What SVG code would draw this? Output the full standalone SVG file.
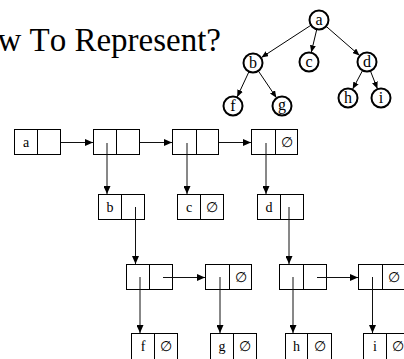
<svg xmlns="http://www.w3.org/2000/svg" width="404" height="359" viewBox="0 0 404 359">
  <style>
    .title { font-family: "Liberation Serif", "Times New Roman", serif; font-size: 33px; fill: #000; font-kerning: none; }
    .tnode circle { fill: #fff; stroke: #000; stroke-width: 2; }
    .tnode text { font-family: "Liberation Serif", "Times New Roman", serif; font-size: 16px; text-anchor: middle; fill: #000; }
    .cell rect, .cell line { fill: #fff; stroke: #000; stroke-width: 1; }
    .cell text { font-family: "Liberation Serif", "DejaVu Serif", serif; font-size: 14px; text-anchor: middle; fill: #000; }
    .edge { stroke: #000; stroke-width: 1; fill: none; marker-end: url(#tip); }
    .link { stroke: #111; stroke-width: 1; fill: none; marker-end: url(#head); }
  </style>
  <defs>
    <marker id="tip" markerUnits="userSpaceOnUse" markerWidth="7" markerHeight="6" refX="7" refY="3" orient="auto">
      <path d="M0,0 L7,3 L0,6 z" fill="#000"/>
    </marker>
    <marker id="head" markerUnits="userSpaceOnUse" markerWidth="8" markerHeight="7" refX="8" refY="3.5" orient="auto">
      <path d="M0,0 L8,3.5 L0,7 z" fill="#000"/>
    </marker>
  </defs>

  <rect width="404" height="359" fill="#fff"/>

  <!-- slide heading, running past the left edge -->
  <text class="title" x="221" y="51" text-anchor="end">How To Represent?</text>

  <!-- tree edges -->
  <g id="tree-edges">
    <line class="edge" x1="311" y1="25.2" x2="261.4" y2="57.5"/>
    <line class="edge" x1="316.8" y1="29.2" x2="311.3" y2="52.3"/>
    <line class="edge" x1="326.1" y1="26.3" x2="359.5" y2="55.4"/>
    <line class="edge" x1="249" y1="71.6" x2="237.2" y2="96.9"/>
    <line class="edge" x1="258.3" y1="70.9" x2="276.4" y2="97.7"/>
    <line class="edge" x1="362.6" y1="70.4" x2="352.7" y2="89.1"/>
    <line class="edge" x1="370.4" y1="70.9" x2="377.4" y2="88.7"/>
  </g>

  <!-- tree nodes -->
  <g id="t-a" class="tnode"><circle cx="319" cy="20" r="9.5"/><text x="319" y="25">a</text></g>
  <g id="t-b" class="tnode"><circle cx="253" cy="63" r="9.5"/><text x="253" y="68">b</text></g>
  <g id="t-c" class="tnode"><circle cx="309" cy="62" r="9.5"/><text x="309" y="67">c</text></g>
  <g id="t-d" class="tnode"><circle cx="367" cy="62" r="9.5"/><text x="367" y="67">d</text></g>
  <g id="t-f" class="tnode"><circle cx="233" cy="106" r="9.5"/><text x="233" y="111">f</text></g>
  <g id="t-g" class="tnode"><circle cx="282" cy="106" r="9.5"/><text x="282" y="110">g</text></g>
  <g id="t-h" class="tnode"><circle cx="348" cy="98" r="9.5"/><text x="348" y="103">h</text></g>
  <g id="t-i" class="tnode"><circle cx="381" cy="98" r="9.5"/><text x="381" y="103">i</text></g>

  <!-- list cells: two-field records -->
  <g id="n-a" class="cell"><rect x="14.5" y="129.5" width="46" height="25"/><line x1="37.5" y1="129.5" x2="37.5" y2="154.5"/><text x="26" y="146.5">a</text></g>
  <g id="n-r1" class="cell"><rect x="93.5" y="129.5" width="46" height="25"/><line x1="116.5" y1="129.5" x2="116.5" y2="154.5"/></g>
  <g id="n-r2" class="cell"><rect x="172.5" y="129.5" width="46" height="25"/><line x1="196.5" y1="129.5" x2="196.5" y2="154.5"/></g>
  <g id="n-r3" class="cell"><rect x="251.5" y="129.5" width="46" height="25"/><line x1="275.5" y1="129.5" x2="275.5" y2="154.5"/><text x="287" y="147">∅</text></g>

  <g id="n-b" class="cell"><rect x="98.5" y="194.5" width="46" height="25"/><line x1="121.5" y1="194.5" x2="121.5" y2="219.5"/><text x="110" y="211.5">b</text></g>
  <g id="n-c" class="cell"><rect x="177.5" y="194.5" width="46" height="25"/><line x1="200.5" y1="194.5" x2="200.5" y2="219.5"/><text x="189" y="211.5">c</text><text x="212" y="212">∅</text></g>
  <g id="n-d" class="cell"><rect x="257.5" y="194.5" width="46" height="25"/><line x1="280.5" y1="194.5" x2="280.5" y2="219.5"/><text x="269" y="211.5">d</text></g>

  <g id="n-s1" class="cell"><rect x="126.5" y="264.5" width="46" height="25"/><line x1="149.5" y1="264.5" x2="149.5" y2="289.5"/></g>
  <g id="n-s2" class="cell"><rect x="205.5" y="264.5" width="46" height="25"/><line x1="229.5" y1="264.5" x2="229.5" y2="289.5"/><text x="240.5" y="282">∅</text></g>
  <g id="n-s3" class="cell"><rect x="279.5" y="264.5" width="47" height="25"/><line x1="303.5" y1="264.5" x2="303.5" y2="289.5"/></g>
  <g id="n-s4" class="cell"><rect x="358.5" y="264.5" width="47" height="25"/><line x1="382.5" y1="264.5" x2="382.5" y2="289.5"/><text x="393.5" y="282">∅</text></g>

  <g id="n-f" class="cell"><rect x="131.5" y="333.5" width="46" height="27"/><line x1="154.5" y1="333.5" x2="154.5" y2="360"/><text x="143" y="350.5">f</text><text x="166" y="351">∅</text></g>
  <g id="n-g" class="cell"><rect x="210.5" y="333.5" width="46" height="27"/><line x1="233.5" y1="333.5" x2="233.5" y2="360"/><text x="222" y="350.5">g</text><text x="245" y="351">∅</text></g>
  <g id="n-h" class="cell"><rect x="285.5" y="333.5" width="46" height="27"/><line x1="307.5" y1="333.5" x2="307.5" y2="360"/><text x="296.5" y="350.5">h</text><text x="319.5" y="351">∅</text></g>
  <g id="n-i" class="cell"><rect x="363.5" y="333.5" width="46" height="27"/><line x1="386.5" y1="333.5" x2="386.5" y2="360"/><text x="375" y="350.5">i</text><text x="398" y="351">∅</text></g>

  <!-- pointers between cells -->
  <g id="links">
    <line class="link" x1="61" y1="142.5" x2="93" y2="142.5"/>
    <line class="link" x1="140" y1="142.5" x2="172" y2="142.5"/>
    <line class="link" x1="219" y1="142.5" x2="251" y2="142.5"/>

    <line class="link" x1="107" y1="143" x2="107" y2="194"/>
    <line class="link" x1="187" y1="143" x2="187" y2="194"/>
    <line class="link" x1="266" y1="143" x2="266" y2="194"/>

    <line class="link" x1="135.5" y1="207" x2="135.5" y2="264"/>
    <line class="link" x1="289" y1="207" x2="289" y2="264"/>

    <line class="link" x1="163" y1="277.5" x2="205" y2="277.5"/>
    <line class="link" x1="317" y1="277.5" x2="358" y2="277.5"/>

    <line class="link" x1="140" y1="277" x2="140" y2="333"/>
    <line class="link" x1="220" y1="277" x2="220" y2="333"/>
    <line class="link" x1="293" y1="277" x2="293" y2="333"/>
    <line class="link" x1="372.5" y1="277" x2="372.5" y2="333"/>
  </g>
</svg>
